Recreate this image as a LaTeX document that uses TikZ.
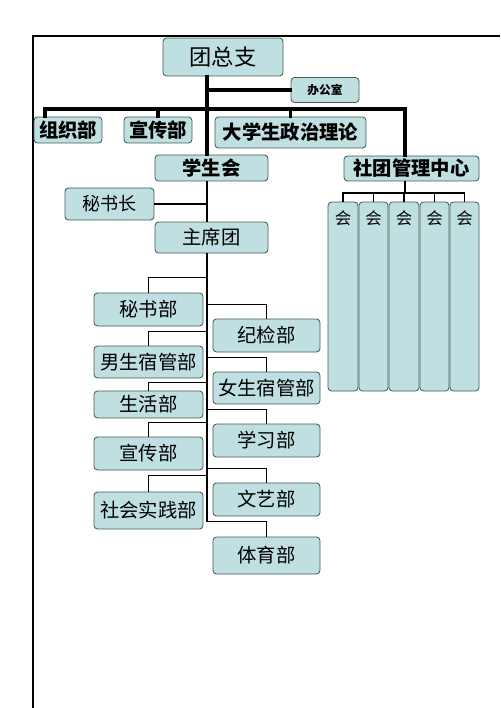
\documentclass[tikz,border=0pt]{standalone}
\usepackage{fontspec}
\newfontfamily\cjk{Noto Sans CJK SC}
\usetikzlibrary{positioning}
\definecolor{boxfill}{RGB}{192,223,224}
\definecolor{boxline}{RGB}{70,92,92}

\begin{document}
\begin{tikzpicture}[
  x=0.03cm, y=-0.03cm,
  every node/.style={font=\cjk},
  unit/.style={draw=boxline, fill=boxfill, line width=0.7pt, rounded corners=3pt,
               inner sep=0pt, font=\cjk\fontsize{16.5}{18}\selectfont},
  head/.style={unit, font=\cjk\bfseries\fontsize{16.5}{18}\selectfont},
  sz/.style 2 args={minimum width=#1*0.03cm, minimum height=#2*0.03cm},
  trunkline/.style={line width=3pt, line cap=rect},
  branch/.style={line width=1.4pt},
  clubline/.style={line width=1.1pt}
]
\useasboundingbox (0,0) rectangle (500,708);

%% page frame
\draw[line width=1.8pt] (33,708) -- (33,36) -- (500,36);

%% top level
\node[unit, sz={120}{38}, font=\cjk\fontsize{19}{21}\selectfont] (tzz) at (223,57) {团总支};
\node[head, sz={68}{25}, font=\cjk\bfseries\fontsize{10}{12}\selectfont] (bgs) at (325,90) {办公室};
\node[head, sz={68}{26}] (zzb) at (68,130) {组织部};
\node[head, sz={68}{26}] (xcb) at (158,130) {宣传部};
\node[head, sz={151}{31}] (dxs) at (290.5,132.5) {大学生政治理论};
\node[head, sz={113}{26}] (xsh) at (211.5,168) {学生会};
\node[head, sz={135}{25}] (stz) at (411.5,168.5) {社团管理中心};

\coordinate (bar) at (207,109);
\coordinate (barL) at (45,109);
\coordinate (barR) at (405,109);
\draw[trunkline] (tzz.south -| bar) -- (xsh.north -| bar);
\draw[trunkline] (bgs.west) -- (bgs.west -| bar);
\draw[trunkline] (zzb.north -| barL) -- (barL) -- (barR) -- (stz.north -| barR);
\draw[trunkline] (xcb.north) -- (xcb.north |- bar);
\draw[trunkline] (dxs.north) -- (dxs.north |- bar);

%% student union
\node[unit, sz={89}{32}, font=\cjk\fontsize{15.5}{17}\selectfont] (msz) at (109.5,204) {秘书长};
\node[unit, sz={113}{31}] (zxt) at (211.5,237.5) {主席团};
\node[unit, sz={109}{33}] (msb) at (148.5,309.5) {秘书部};
\node[unit, sz={107}{33}] (jjb) at (266.5,335.5) {纪检部};
\node[unit, sz={109}{32}] (nsg) at (148.5,362) {男生宿管部};
\node[unit, sz={107}{32}] (vsg) at (266.5,388) {女生宿管部};
\node[unit, sz={109}{27}] (shb) at (148.5,404.5) {生活部};
\node[unit, sz={107}{33}] (xxb) at (266.5,440.5) {学习部};
\node[unit, sz={109}{33}] (xcb2) at (148.5,453.5) {宣传部};
\node[unit, sz={107}{33}] (wyb) at (266.5,499.5) {文艺部};
\node[unit, sz={109}{37}] (sjb) at (148.5,510.5) {社会实践部};
\node[unit, sz={107}{37}] (tyb) at (266.5,555.5) {体育部};

\coordinate (trunk) at (207,181);
\draw[branch] (msz.east) -- (msz.east -| trunk);
\draw[branch] (xsh.south -| trunk) -- (zxt.north -| trunk);
\draw[branch] (msb.north) -- ++(0,-15) coordinate (b1) -- (b1 -| trunk);
\draw[branch] (jjb.north) -- ++(0,-14) coordinate (b2) -- (b2 -| trunk);
\draw[branch] (nsg.north) -- ++(0,-14) coordinate (b3) -- (b3 -| trunk);
\draw[branch] (vsg.north) -- ++(0,-14) coordinate (b4) -- (b4 -| trunk);
\draw[branch] (shb.north) -- ++(0,-8) coordinate (b5) -- (b5 -| trunk);
\draw[branch] (xxb.north) -- ++(0,-14) coordinate (b6) -- (b6 -| trunk);
\draw[branch] (xcb2.north) -- ++(0,-14) coordinate (b7) -- (b7 -| trunk);
\draw[branch] (wyb.north) -- ++(0,-14) coordinate (b8) -- (b8 -| trunk);
\draw[branch] (sjb.north) -- ++(0,-16) coordinate (b9) -- (b9 -| trunk);
\draw[branch] (tyb.north) -- ++(0,-15) coordinate (b10) -- (b10 -| trunk);
\draw[branch] (zxt.south -| trunk) -- (b10 -| trunk);

%% clubs
\node[unit, sz={30}{189}] (c1) at (343,296.5) {};
\node[unit, sz={29}{189}] (c2) at (373.5,296.5) {};
\node[unit, sz={30}{189}] (c3) at (404,296.5) {};
\node[unit, sz={29}{189}] (c4) at (434.5,296.5) {};
\node[unit, sz={29}{189}] (c5) at (464.5,296.5) {};
\node[below=4pt of c1.north, font=\cjk\fontsize{14}{16}\selectfont] {会};
\node[below=4pt of c2.north, font=\cjk\fontsize{14}{16}\selectfont] {会};
\node[below=4pt of c3.north, font=\cjk\fontsize{14}{16}\selectfont] {会};
\node[below=4pt of c4.north, font=\cjk\fontsize{14}{16}\selectfont] {会};
\node[below=4pt of c5.north, font=\cjk\fontsize{14}{16}\selectfont] {会};

\coordinate (cbar) at (405,193);
\draw[clubline] (stz.south -| cbar) -- (cbar);
\draw[clubline] (c1.north) -- (c1.north |- cbar) -- (c5.north |- cbar) -- (c5.north);
\draw[clubline] (c2.north) -- (c2.north |- cbar);
\draw[clubline] (c3.north) -- (c3.north |- cbar);
\draw[clubline] (c4.north) -- (c4.north |- cbar);

\end{tikzpicture}
\end{document}
